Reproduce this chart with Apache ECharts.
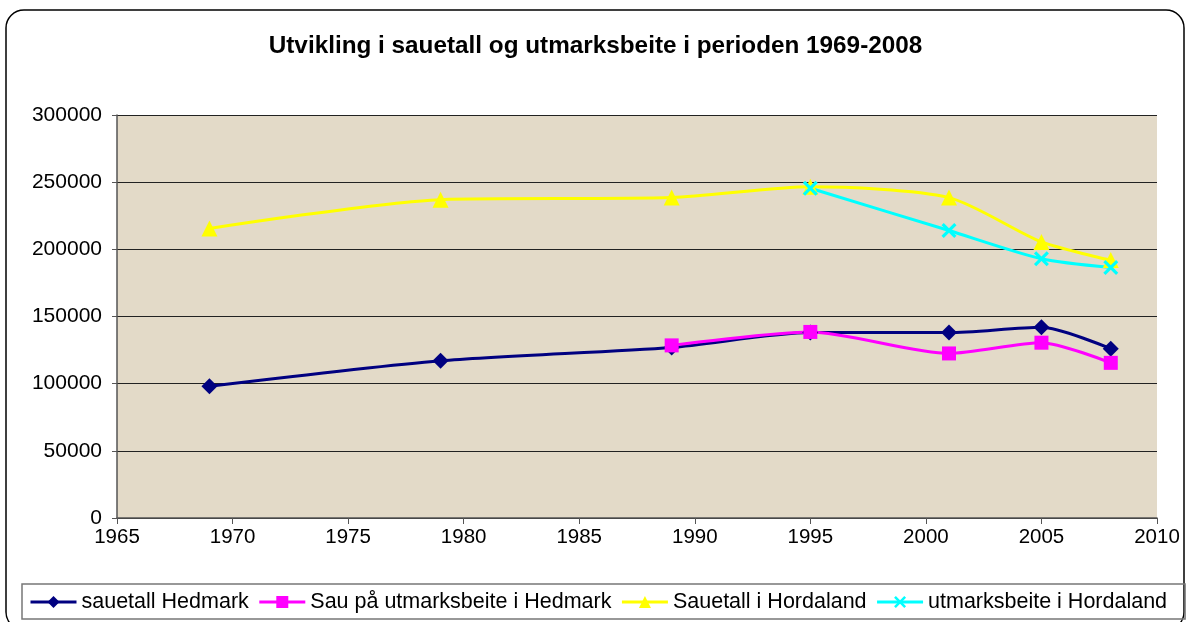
<!DOCTYPE html>
<html><head><meta charset="utf-8">
<script src="https://cdn.jsdelivr.net/npm/echarts@6/dist/echarts.min.js"></script>
<style>html,body{margin:0;padding:0;background:#fff}#c{width:1191px;height:622px}</style>
</head><body><div id="c"></div>
<script>
const xTicks = [1965, 1970, 1975, 1980, 1985, 1990, 1995, 2000, 2005, 2010];
const yTicks = [0, 50000, 100000, 150000, 200000, 250000, 300000];
const yearsHedmark = [1969, 1979, 1989, 1995, 2001, 2005, 2008];
const sauetallHedmark = [98000, 117000, 127000, 138000, 138000, 142000, 126000];
const yearsUtmarkHedmark = [1989, 1995, 2001, 2005, 2008];
const utmarkHedmark = [128500, 138500, 122500, 130500, 115500];
const yearsHordaland = [1969, 1979, 1989, 1995, 2001, 2005, 2008];
const sauetallHordaland = [215500, 237000, 238500, 246500, 238500, 205500, 192000];
const yearsUtmarkHordaland = [1995, 2001, 2005, 2008];
const utmarkHordaland = [245500, 214000, 193000, 186500];

const pair = (xs, ys) => xs.map((x, i) => [x, ys[i]]);
const xSym = 'path://M0,1.5L1.5,0L5,3.5L8.5,0L10,1.5L6.5,5L10,8.5L8.5,10L5,6.5L1.5,10L0,8.5L3.5,5Z';

const chart = echarts.init(document.getElementById('c'));
const font = 'Liberation Sans, Arial, sans-serif';
function s(name, data, color, symbol, size) {
  return {name, type: 'line', data, smooth: 0.25, symbol, symbolSize: size,
    lineStyle: {color, width: 3}, itemStyle: {color}, z: 3};
}
chart.setOption({
  animation: false,
  textStyle: {fontFamily: font},
  graphic: [{type: 'rect', shape: {x: 6, y: 10, width: 1178, height: 620, r: 18},
    style: {fill: 'none', stroke: '#000', lineWidth: 1.5}, z: -10}],
  title: {text: 'Utvikling i sauetall og utmarksbeite i perioden 1969-2008', left: 'center', top: 29,
    textStyle: {fontFamily: font, fontSize: 24.3, fontWeight: 'bold', color: '#000'}},
  grid: {left: 117, right: 34, top: 115, bottom: 104, show: true, backgroundColor: '#e3dac8', borderWidth: 0},
  xAxis: {type: 'value', min: xTicks[0], max: xTicks[xTicks.length - 1], interval: 5,
    axisLine: {lineStyle: {color: '#555', width: 1.5}}, axisTick: {show: true, length: 6, lineStyle: {color: '#555'}},
    axisLabel: {color: '#000', fontSize: 20.5, margin: 9, fontFamily: font, formatter: v => String(v)},
    splitLine: {show: false}},
  yAxis: {type: 'value', min: yTicks[0], max: yTicks[yTicks.length - 1], interval: 50000,
    axisLine: {show: true, lineStyle: {color: '#555', width: 1.5}}, axisTick: {show: true, length: 5, lineStyle: {color: '#555'}},
    axisLabel: {color: '#000', fontSize: 21, margin: 15, fontFamily: font, formatter: v => String(v)},
    splitLine: {show: true, lineStyle: {color: '#222', width: 1}}},
  legend: {left: 22, top: 584, padding: [7, 18, 6, 7], itemGap: 9, itemWidth: 46, itemHeight: 15,
    borderColor: '#777', borderWidth: 1.5, borderRadius: 0,
    lineStyle: {width: 3},
    textStyle: {color: '#000', fontSize: 21.5, fontFamily: font}},
  series: [
    s('sauetall Hedmark', pair(yearsHedmark, sauetallHedmark), '#000080', 'diamond', 16),
    s('Sau på utmarksbeite i Hedmark', pair(yearsUtmarkHedmark, utmarkHedmark), '#ff00ff', 'rect', 14),
    s('Sauetall i Hordaland', pair(yearsHordaland, sauetallHordaland), '#ffff00', 'triangle', 16),
    s('utmarksbeite i Hordaland', pair(yearsUtmarkHordaland, utmarkHordaland), '#00ffff', xSym, 15)
  ]
});
</script></body></html>
